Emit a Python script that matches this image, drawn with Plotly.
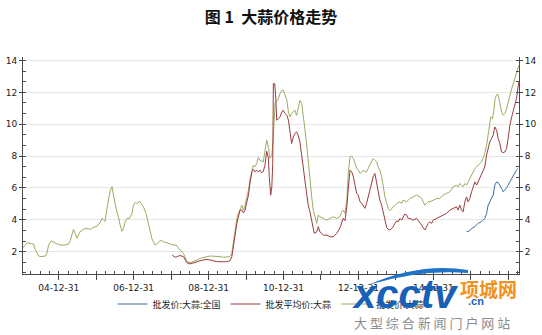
import plotly.graph_objects as go

TITLE = "图 1  大蒜价格走势"
NAMES = ["批发价:大蒜:全国", "批发平均价:大蒜", "批发价:大蒜"]

GREEN_DATES = [
    "2004-01-17", "2004-02-26", "2004-03-27", "2004-04-29", "2004-05-15", "2004-06-02", "2004-06-17",
    "2004-07-10", "2004-08-05", "2004-08-24", "2004-09-08", "2004-09-23", "2004-10-19", "2004-11-11",
    "2004-12-14", "2005-01-15", "2005-03-03", "2005-04-05", "2005-04-21", "2005-05-08", "2005-05-23",
    "2005-06-09", "2005-06-26", "2005-07-11", "2005-07-27", "2005-08-29", "2005-10-02", "2005-11-03",
    "2005-12-05", "2006-01-08", "2006-02-09", "2006-02-25", "2006-03-11", "2006-03-27", "2006-04-14",
    "2006-04-29", "2006-05-15", "2006-06-02", "2006-06-17", "2006-07-03", "2006-07-20", "2006-08-05",
    "2006-08-21", "2006-09-08", "2006-09-23", "2006-10-09", "2006-10-26", "2006-11-21", "2006-12-14",
    "2006-12-29", "2007-01-15", "2007-02-07", "2007-02-24", "2007-03-10", "2007-04-05", "2007-05-01",
    "2007-05-23", "2007-06-09", "2007-06-26", "2007-07-11", "2007-07-27", "2007-08-19", "2007-09-15",
    "2007-10-02", "2007-10-17", "2007-11-20", "2007-12-21", "2008-01-17", "2008-02-19", "2008-03-11",
    "2008-03-27", "2008-04-29", "2008-05-15", "2008-06-02", "2008-07-03", "2008-08-05", "2008-09-08",
    "2008-10-09", "2008-11-11", "2008-12-14", "2009-01-15", "2009-02-17", "2009-03-20", "2009-04-21",
    "2009-05-23", "2009-06-26", "2009-07-27", "2009-08-14", "2009-08-29", "2009-09-15", "2009-10-02",
    "2009-10-17", "2009-11-03", "2009-11-20", "2009-12-05", "2009-12-21", "2010-01-08", "2010-01-23",
    "2010-02-09", "2010-02-26", "2010-03-11", "2010-03-27", "2010-04-14", "2010-04-29", "2010-05-15",
    "2010-06-17", "2010-07-03", "2010-07-20", "2010-08-05", "2010-08-21", "2010-09-08", "2010-09-23",
    "2010-10-09", "2010-10-26", "2010-11-11", "2010-11-27", "2010-12-14", "2010-12-29", "2011-01-15",
    "2011-02-02", "2011-02-17", "2011-03-03", "2011-03-20", "2011-04-05", "2011-04-21", "2011-05-08",
    "2011-05-23", "2011-06-09", "2011-06-26", "2011-07-11", "2011-07-27", "2011-08-14", "2011-08-29",
    "2011-09-15", "2011-10-02", "2011-10-17", "2011-11-03", "2011-11-20", "2011-12-05", "2011-12-21",
    "2012-01-23", "2012-02-26", "2012-03-27", "2012-04-29", "2012-06-02", "2012-07-03", "2012-07-20",
    "2012-08-05", "2012-08-21", "2012-09-08", "2012-09-23", "2012-10-09", "2012-10-26", "2012-11-11",
    "2012-11-27", "2012-12-14", "2012-12-29", "2013-01-15", "2013-02-02", "2013-02-17", "2013-03-03",
    "2013-03-20", "2013-04-05", "2013-04-21", "2013-05-08", "2013-05-23", "2013-06-09", "2013-06-26",
    "2013-07-11", "2013-07-27", "2013-08-14", "2013-08-29", "2013-09-15", "2013-10-02", "2013-10-17",
    "2013-11-03", "2013-11-20", "2013-12-05", "2014-01-08", "2014-02-09", "2014-02-26", "2014-03-11",
    "2014-04-14", "2014-05-15", "2014-06-17", "2014-07-20", "2014-08-21", "2014-09-08", "2014-09-23",
    "2014-10-09", "2014-10-26", "2014-11-11", "2014-11-27", "2014-12-29", "2015-02-02", "2015-03-03",
    "2015-04-05", "2015-05-08", "2015-06-09", "2015-07-11", "2015-08-14", "2015-08-29", "2015-09-15",
    "2015-10-02", "2015-10-17", "2015-11-03", "2015-11-20", "2015-12-05", "2015-12-21", "2016-01-08",
    "2016-01-23", "2016-02-09", "2016-02-26", "2016-03-11", "2016-03-27", "2016-04-14", "2016-04-29",
    "2016-05-15", "2016-06-02", "2016-06-17", "2016-07-03", "2016-07-13", "2016-07-29", "2016-08-12",
    "2016-08-24", "2016-09-08", "2016-09-23", "2016-10-09", "2016-10-26", "2016-11-11", "2016-11-27",
    "2016-12-14", "2016-12-29", "2017-01-15", "2017-02-02", "2017-02-17", "2017-03-03", "2017-03-20",
    "2017-04-05", "2017-04-13",
]
GREEN_VALUES = [
    2.25, 2.56, 2.52, 2.48, 2.15, 1.90, 1.73,
    1.69, 1.73, 1.73, 1.94, 2.42, 2.69, 2.60,
    2.48, 2.42, 2.42, 2.48, 2.69, 3.04, 3.40,
    3.15, 2.84, 3.04, 3.25, 3.40, 3.46, 3.40,
    3.53, 3.60, 3.85, 4.09, 3.98, 3.90, 4.70,
    5.35, 5.80, 6.08, 5.66, 5.03, 4.50, 4.19,
    3.67, 3.28, 3.46, 3.88, 4.09, 4.09, 4.40,
    4.92, 5.09, 5.03, 5.18, 5.03, 4.82, 4.40,
    3.78, 3.25, 2.84, 2.62, 2.42, 2.52, 2.69,
    2.69, 2.62, 2.56, 2.48, 2.42, 2.42, 2.21,
    2.10, 1.90, 1.58, 1.37, 1.31, 1.37, 1.48,
    1.58, 1.65, 1.69, 1.73, 1.73, 1.69, 1.69,
    1.65, 1.65, 1.69, 1.90, 2.52, 3.36, 4.09,
    4.40, 4.72, 4.92, 4.61, 4.92, 5.44, 5.86,
    6.60, 7.22, 7.43, 7.32, 7.54, 7.91, 7.74,
    7.64, 8.26, 9.00, 8.58, 7.85, 8.06, 9.20,
    11.30, 11.50, 11.61, 11.92, 12.13, 12.13, 11.82,
    11.50, 10.77, 10.46, 10.67, 10.77, 10.88, 10.56,
    10.98, 11.50, 11.30, 10.67, 9.73, 8.68, 7.54,
    6.28, 5.44, 4.61, 4.09, 3.78, 4.30, 4.19,
    4.09, 3.98, 4.09, 4.19, 4.09, 4.20, 4.50,
    4.61, 4.40, 5.24, 6.91, 7.95, 8.00, 7.85,
    7.54, 7.22, 7.12, 6.91, 7.01, 7.12, 7.01,
    7.01, 7.22, 7.43, 7.74, 7.85, 7.74, 7.64,
    7.32, 7.12, 6.70, 6.07, 5.44, 5.03, 4.72,
    4.57, 4.72, 4.82, 5.03, 5.13, 5.03, 5.24,
    5.13, 5.34, 5.44, 5.55, 5.44, 5.34, 5.13,
    4.92, 5.03, 5.13, 5.13, 5.24, 5.34, 5.34,
    5.55, 5.66, 5.76, 6.07, 6.18, 6.07, 6.28,
    6.18, 6.07, 6.28, 6.18, 6.38, 6.60, 6.80,
    7.01, 7.22, 7.32, 7.43, 7.54, 7.64, 7.85,
    8.16, 8.68, 9.31, 10.14, 10.46, 10.36, 10.88,
    11.61, 11.86, 11.86, 11.19, 10.77, 10.56, 10.67,
    10.98, 11.40, 11.82, 12.24, 12.55, 12.86, 13.18,
    13.59, 13.70,
]

RED_DATES = [
    "2008-01-11", "2008-02-09", "2008-03-01", "2008-03-27", "2008-04-29", "2008-05-15", "2008-06-02",
    "2008-07-03", "2008-08-05", "2008-09-08", "2008-10-09", "2008-11-11", "2008-12-14", "2009-01-15",
    "2009-02-17", "2009-03-20", "2009-04-21", "2009-05-23", "2009-06-26", "2009-07-27", "2009-08-14",
    "2009-08-29", "2009-09-15", "2009-10-02", "2009-10-17", "2009-11-03", "2009-11-20", "2009-12-05",
    "2009-12-21", "2010-01-08", "2010-01-23", "2010-02-09", "2010-02-26", "2010-03-11", "2010-03-27",
    "2010-04-14", "2010-04-29", "2010-05-15", "2010-06-02", "2010-06-17", "2010-07-03", "2010-07-20",
    "2010-08-05", "2010-08-14", "2010-08-28", "2010-09-08", "2010-09-17", "2010-09-23", "2010-10-06",
    "2010-10-16", "2010-10-26", "2010-11-11", "2010-11-27", "2010-12-14", "2010-12-29", "2011-01-15",
    "2011-02-02", "2011-02-17", "2011-03-03", "2011-03-20", "2011-04-05", "2011-04-21", "2011-05-08",
    "2011-05-23", "2011-06-09", "2011-06-26", "2011-07-11", "2011-07-27", "2011-08-14", "2011-08-29",
    "2011-09-15", "2011-10-02", "2011-10-17", "2011-10-27", "2011-11-20", "2011-12-05", "2011-12-21",
    "2012-01-08", "2012-01-23", "2012-02-26", "2012-03-27", "2012-04-29", "2012-06-02", "2012-07-03",
    "2012-07-20", "2012-08-05", "2012-08-21", "2012-09-08", "2012-09-23", "2012-10-09", "2012-10-26",
    "2012-11-11", "2012-11-27", "2012-12-14", "2012-12-29", "2013-01-15", "2013-02-02", "2013-02-17",
    "2013-03-03", "2013-03-20", "2013-04-05", "2013-04-21", "2013-05-08", "2013-05-23", "2013-06-09",
    "2013-06-26", "2013-07-11", "2013-07-27", "2013-08-14", "2013-08-29", "2013-09-15", "2013-10-02",
    "2013-10-17", "2013-11-03", "2013-11-20", "2013-12-05", "2013-12-21", "2014-01-08", "2014-01-23",
    "2014-02-09", "2014-02-26", "2014-03-11", "2014-03-27", "2014-04-14", "2014-04-29", "2014-05-15",
    "2014-06-17", "2014-07-20", "2014-08-21", "2014-09-08", "2014-09-23", "2014-10-09", "2014-10-26",
    "2014-11-11", "2014-11-27", "2014-12-14", "2014-12-29", "2015-02-02", "2015-03-03", "2015-04-05",
    "2015-05-08", "2015-06-09", "2015-07-11", "2015-08-14", "2015-08-29", "2015-09-15", "2015-10-02",
    "2015-10-17", "2015-11-03", "2015-11-20", "2015-12-05", "2015-12-21", "2016-01-08", "2016-01-23",
    "2016-02-09", "2016-02-26", "2016-03-11", "2016-03-27", "2016-04-14", "2016-04-29", "2016-05-15",
    "2016-06-02", "2016-06-17", "2016-07-03", "2016-07-20", "2016-08-05", "2016-08-21", "2016-09-08",
    "2016-09-23", "2016-10-09", "2016-10-26", "2016-11-11", "2016-11-27", "2016-12-14", "2016-12-29",
    "2017-01-15", "2017-02-02", "2017-02-17", "2017-03-03", "2017-03-20", "2017-04-05", "2017-04-13",
]
RED_VALUES = [
    1.78, 1.65, 1.70, 1.76, 1.69, 1.48, 1.31,
    1.23, 1.31, 1.37, 1.43, 1.48, 1.52, 1.48,
    1.43, 1.37, 1.37, 1.37, 1.37, 1.43, 1.69,
    2.31, 3.15, 3.78, 4.19, 4.61, 4.61, 4.44,
    4.61, 5.03, 5.55, 6.38, 7.01, 7.16, 7.01,
    7.12, 7.01, 7.12, 6.95, 7.05, 7.40, 8.30,
    7.90, 6.70, 5.55, 6.07, 7.54, 12.55, 12.55,
    11.71, 10.25, 10.36, 10.46, 10.77, 10.88, 10.67,
    10.56, 10.25, 9.52, 8.79, 9.20, 9.42, 9.52,
    9.31, 8.89, 8.16, 7.32, 6.49, 5.66, 4.92,
    4.50, 3.98, 3.46, 3.15, 3.25, 3.57, 3.25,
    3.15, 3.04, 3.04, 2.94, 2.94, 3.15, 3.50,
    3.90, 4.10, 3.95, 4.80, 6.00, 7.12, 7.01,
    6.70, 6.18, 5.66, 5.55, 5.13, 5.03, 4.82,
    4.72, 5.03, 5.44, 5.86, 6.28, 6.70, 6.91,
    6.28, 5.66, 5.24, 4.92, 4.50, 4.09, 3.53,
    3.40, 3.36, 3.46, 3.57, 3.78, 3.94, 3.88,
    4.09, 3.98, 4.19, 4.36, 4.30, 4.09, 4.09,
    3.98, 4.09, 3.85, 3.67, 3.50, 3.36, 3.57,
    3.78, 3.88, 3.78, 3.98, 4.09, 4.19, 4.30,
    4.40, 4.61, 4.72, 4.82, 4.61, 4.92, 4.61,
    4.50, 5.13, 5.44, 5.13, 5.34, 5.76, 6.07,
    6.38, 6.18, 6.38, 6.60, 6.80, 7.01, 7.32,
    8.06, 8.48, 8.89, 9.10, 9.31, 9.83, 9.62,
    9.10, 8.79, 8.26, 8.22, 8.26, 8.48, 9.10,
    9.94, 10.46, 10.88, 11.08, 11.61, 12.34, 12.65,
]

BLUE_DATES = [
    "2015-11-20", "2015-12-21", "2016-01-08", "2016-02-09", "2016-03-11", "2016-04-14", "2016-05-15",
    "2016-06-02", "2016-06-17", "2016-07-03", "2016-07-20", "2016-08-05", "2016-08-21", "2016-09-08",
    "2016-09-23", "2016-10-09", "2016-10-26", "2016-11-11", "2016-11-27", "2016-12-14", "2016-12-29",
    "2017-01-15", "2017-02-02", "2017-02-17", "2017-03-03", "2017-03-20", "2017-04-05",
]
BLUE_VALUES = [
    3.25, 3.32, 3.46, 3.57, 3.78, 3.88, 4.09,
    4.40, 4.92, 5.13, 5.34, 5.55, 6.18, 6.38,
    6.34, 6.18, 5.97, 5.76, 5.86, 6.01, 6.18,
    6.38, 6.60, 6.80, 6.91, 7.12, 7.22,
]

X_TICK_DATES = ["2004-12-31", "2005-12-31", "2006-12-31", "2007-12-31", "2008-12-31",
                "2009-12-31", "2010-12-31", "2011-12-31", "2012-12-31", "2013-12-31",
                "2014-12-31", "2015-12-31", "2016-12-31"]
X_TICK_TEXT = ["04-12-31", "", "06-12-31", "", "08-12-31", "", "10-12-31", "",
               "12-12-31", "", "14-12-31", "", ""]
Y_TICKS = [2, 4, 6, 8, 10, 12, 14]

BLUE = "#3e6e9c"
RED = "#9c3c3e"
GREEN = "#9dab62"
AXIS = "#4a4a4a"
TICKFONT = dict(family="DejaVu Sans", size=9, color="#222222")

fig = go.Figure()
fig.add_trace(go.Scatter(x=GREEN_DATES, y=GREEN_VALUES, mode="lines", name=NAMES[2],
                         line=dict(color=GREEN, width=1), legendrank=3))
fig.add_trace(go.Scatter(x=RED_DATES, y=RED_VALUES, mode="lines", name=NAMES[1],
                         line=dict(color=RED, width=1), legendrank=2))
fig.add_trace(go.Scatter(x=BLUE_DATES, y=BLUE_VALUES, mode="lines", name=NAMES[0],
                         line=dict(color=BLUE, width=1), legendrank=1, yaxis="y2"))

YR = [0.6, 14.22]
ML, MR, MT, MB = 23, 23, 57, 61
W, H = 542, 335
PW, PH = W - ML - MR, H - MT - MB


def px(xp):
    return (xp - ML) / PW


def py(yp):
    return (H - MB - yp) / PH


yaxis_common = dict(
    range=YR, tickmode="array", tickvals=Y_TICKS, ticks="outside", ticklen=3,
    tickcolor=AXIS, showline=True, linecolor=AXIS, linewidth=1,
    tickfont=TICKFONT, zeroline=False,
    minor=dict(tickmode="linear", tick0=0, dtick=2 / 3, ticks="inside", ticklen=3,
               tickcolor=AXIS, showgrid=False),
)

fig.update_layout(
    width=W, height=H,
    margin=dict(l=ML, r=MR, t=MT, b=MB, autoexpand=False),
    paper_bgcolor="white", plot_bgcolor="white",
    title=dict(text="<b>" + TITLE + "</b>", x=0.5, xanchor="center", y=1 - 17 / H, yanchor="middle",
               font=dict(family="Noto Sans CJK SC", size=16, color="#111111")),
    xaxis=dict(
        type="date", range=["2004-01-17", "2017-04-14"],
        tickmode="array", tickvals=X_TICK_DATES, ticktext=X_TICK_TEXT,
        ticks="outside", ticklen=5, tickcolor=AXIS, showline=True, linecolor=AXIS,
        linewidth=1, showgrid=False, tickfont=TICKFONT, zeroline=False,
        minor=dict(tickmode="linear", tick0="2005-01-01", dtick="M3", ticks="inside",
                   ticklen=3, tickcolor=AXIS, showgrid=False),
    ),
    yaxis=dict(showgrid=True, gridcolor="#e6e6e6", gridwidth=1, **yaxis_common),
    yaxis2=dict(overlaying="y", side="right", showgrid=False, matches="y", **yaxis_common),
    showlegend=True,
    legend=dict(orientation="h", x=0.5, xanchor="center", y=py(304), yanchor="middle",
                font=dict(family="Noto Sans CJK SC", size=9, color="#222222"),
                bgcolor="rgba(0,0,0,0)", itemwidth=30, tracegroupgap=0),
)

# website watermark overlaid on the source image
swoosh = "M {} {} Q {} {} {} {} L {} {} Q {} {} {} {} Z".format(
    px(368), py(285), px(420), py(262), px(468), py(270),
    px(468), py(273), px(420), py(269), px(368), py(285))
fig.add_shape(type="path", path=swoosh, xref="paper", yref="paper",
              fillcolor="#1f74c9", line=dict(width=0), layer="above")
fig.add_annotation(text="<b><i>xcctv</i></b>", x=px(405), y=py(294), xref="paper", yref="paper",
                   showarrow=False, xanchor="center", yanchor="middle",
                   font=dict(family="Liberation Sans", size=40, color="#1762b8"))
fig.add_annotation(text="<b>.cn</b>", x=px(476), y=py(301), xref="paper", yref="paper",
                   showarrow=False, xanchor="center", yanchor="middle",
                   font=dict(family="Liberation Sans", size=11, color="#1762b8"))
fig.add_annotation(text="<b>项城网</b>", x=px(488), y=py(288), xref="paper", yref="paper",
                   showarrow=False, xanchor="center", yanchor="middle",
                   font=dict(family="Noto Sans CJK SC", size=19, color="#f2921e"))
fig.add_annotation(text="大 型 综 合 新 闻 门 户 网 站", x=px(432), y=py(322), xref="paper", yref="paper",
                   showarrow=False, xanchor="center", yanchor="middle",
                   font=dict(family="Noto Sans CJK SC", size=13, color="#8c8c8c"))

fig.write_html("out.html")
